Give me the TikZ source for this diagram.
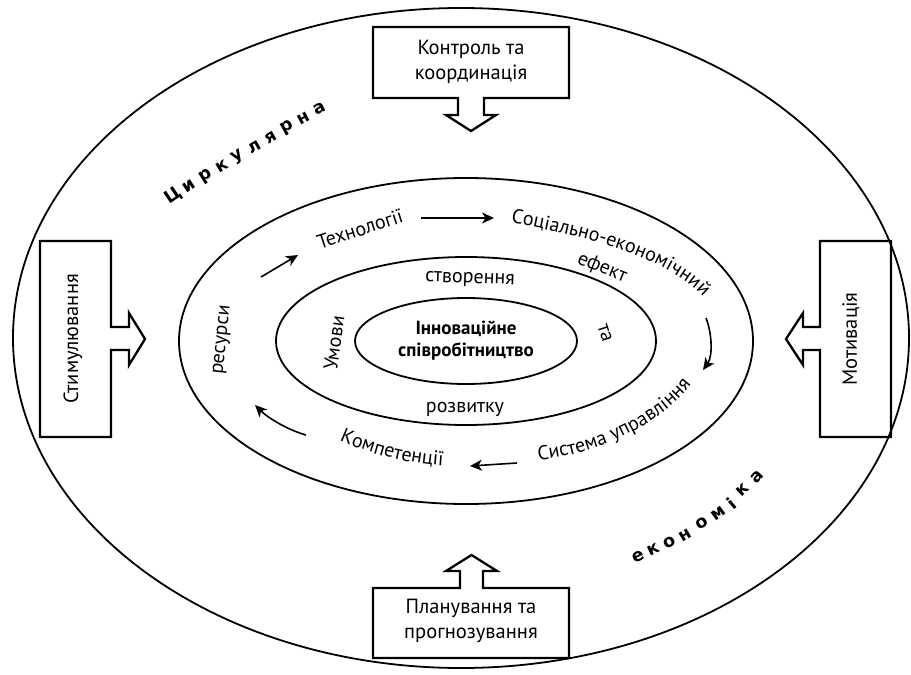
\documentclass[tikz,border=0pt]{standalone}
\usepackage{fontspec}
\setmainfont{PT Sans}
\newfontfamily\circfont{DejaVu Sans}
\usetikzlibrary{arrows.meta,decorations.text}
\newcommand\rfont{\fontsize{20}{24}\selectfont}
\newcommand\bxfont{\fontsize{20.5}{25}\selectfont}
\newcommand\cenfont{\bfseries\fontsize{19}{22}\selectfont}
\newcommand\crfont{\circfont\bfseries\fontsize{17.5}{17.5}\selectfont}
\begin{document}
\begin{tikzpicture}[x=1pt,y=-1pt,
  ring/.style={line width=1.8pt},
  boxline/.style={line width=2.3pt, line join=miter},
  lbl/.style={font=\rfont, inner sep=0pt},
  boxlbl/.style={font=\bxfont, align=center, inner sep=0pt},
  cenlbl/.style={font=\cenfont, align=center, inner sep=0pt},
  circ/.style={font=\crfont, inner sep=0pt},
  flow/.style={line width=1.6pt, -{Stealth[length=12pt,width=11pt,inset=3.5pt]}},
  ringtext/.style={decorate, decoration={text along path, text align=center, text={|\rfont|#1}}}
]
\useasboundingbox (0,0) rectangle (911,675);
% ellipses
\draw[ring] (461,338) ellipse [x radius=448, y radius=330];
\draw[ring] (466,341) ellipse [x radius=287, y radius=163];
\draw[ring] (466,341) ellipse [x radius=190, y radius=84];
\draw[ring] (466,341) ellipse [x radius=111, y radius=43];

% boxes with block arrows
\draw[boxline] (373,27) -- (569,27) -- (569,98) -- (484,98) -- (484,115) -- (496,115) -- (471,131) -- (446,115) -- (458,115) -- (458,98) -- (373,98) -- cycle;
\draw[boxline] (373,658) -- (569,658) -- (569,588) -- (483,588) -- (483,571) -- (497,571) -- (471.5,555) -- (446,571) -- (460,571) -- (460,588) -- (373,588) -- cycle;
\draw[boxline] (40,241) -- (111,241) -- (111,327) -- (129,327) -- (129,313) -- (145,339) -- (129,365) -- (129,350) -- (111,350) -- (111,437) -- (40,437) -- cycle;
\draw[boxline] (891,241) -- (820,241) -- (820,327) -- (803,327) -- (803,313) -- (786,339) -- (803,365) -- (803,350) -- (820,350) -- (820,437) -- (891,437) -- cycle;

\node[boxlbl] (ctrl) at (471,62) {Контроль та\\координація};
\node[boxlbl] (plan) at (471,621) {Планування та\\прогнозування};
\node[boxlbl, rotate=90] (stim) at (73,339) {Стимулювання};
\node[boxlbl, rotate=90] (motiv) at (851,339) {Мотивація};

% centre
\node[cenlbl] (inno) at (466,341) {Інноваційне\\співробітництво};

% inner ring words
\node[lbl, rotate=-2] (stvor) at (470,280) {створення};
\node[lbl] (rozv) at (465,409) {розвитку};
\node[lbl, rotate=-72] (ta) at (605,333) {та};
\node[lbl, rotate=82] (umovy) at (334,343) {Умови};

% middle ring words
\node[lbl, rotate=18] (tech) at (360,229) {Технології};
\node[lbl, rotate=-22] (efekt) at (602,268) {ефект};
\node[lbl, rotate=84] (res) at (223,340) {ресурси};
\path[ringtext={Соціально-економічний}] (499,221) .. controls (580,234) and (676,258) .. (711,306);
\path[ringtext={Система управління}] (528,461) .. controls (590,458) and (668,424) .. (697,376);
\path[ringtext={Компетенції}] (334,438) .. controls (370,455) and (409,464) .. (449,466);

% flow arrows
\coordinate (a1s) at (261,277); \coordinate (a1e) at (298,255);
\coordinate (a2s) at (421,218); \coordinate (a2e) at (494,218);
\coordinate (a3s) at (706,318); \coordinate (a3e) at (703,370);
\coordinate (a4s) at (517,463); \coordinate (a4e) at (470,466);
\coordinate (a5s) at (306,435); \coordinate (a5e) at (255,405);
\draw[flow] (a1s) -- (a1e);
\draw[flow] (a2s) -- (a2e);
\draw[flow] (a3s) .. controls (712,333) and (713,356) .. (a3e);
\draw[flow] (a4s) -- (a4e);
\draw[flow] (a5s) .. controls (288,430) and (268,418) .. (a5e);

% circular economy letters
\foreach \lt/\px/\py/\ang [count=\k] in {Ц/173/196/34, и/189.3/186.3/33, р/205.7/176.6/32, к/222/166/31, у/238.3/157/31, л/254.7/147.4/30, я/271/137.7/30, р/287.3/128/29, н/303.7/118.3/28, а/320/108.6/27}
  \node[circ, rotate=\ang] (cu\k) at (\px,\py) {\lt};
\foreach \lt/\px/\py/\ang [count=\k] in {е/638/557/25, к/653/550/26, о/670/542/28, н/685/535/30, о/702/523/33, м/718/513/36, і/732/503/40, к/743/490/43, а/757/477/46}
  \node[circ, rotate=\ang] (ec\k) at (\px,\py) {\lt};
\end{tikzpicture}
\end{document}
